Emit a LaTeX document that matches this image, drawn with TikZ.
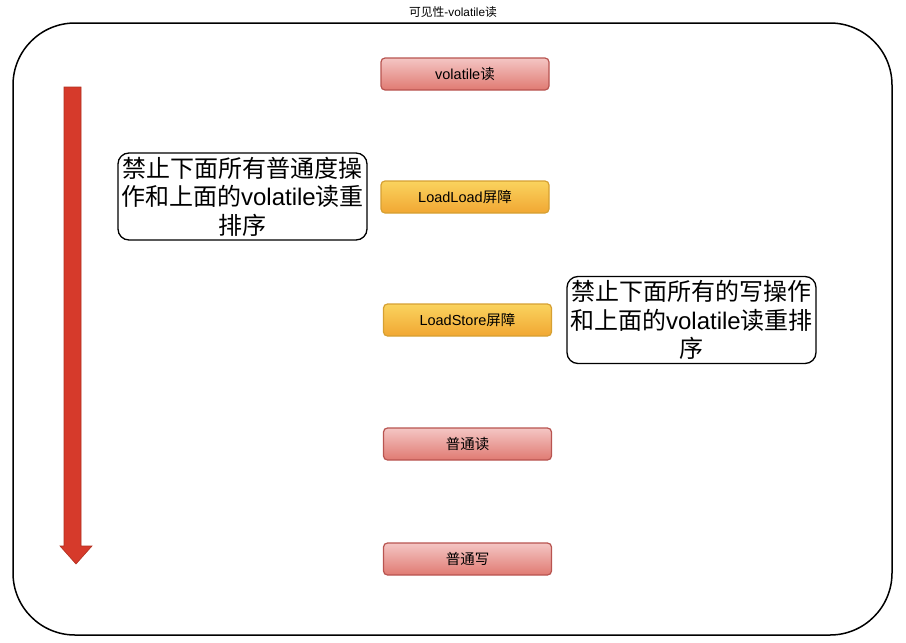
\documentclass[tikz,border=0pt]{standalone}
\usepackage{fontspec}
\setmainfont{Liberation Sans}
\newfontfamily\cjk{Noto Sans CJK SC}
\definecolor{redtop}{HTML}{F4C6C4}
\definecolor{redbot}{HTML}{E07A72}
\definecolor{redline}{HTML}{B85450}
\definecolor{orgtop}{HTML}{FAD35E}
\definecolor{orgbot}{HTML}{F1A733}
\definecolor{orgline}{HTML}{D6A032}
\definecolor{arrowfill}{HTML}{D63A2B}
\definecolor{arrowline}{HTML}{B0301F}
\begin{document}
\begin{tikzpicture}[x=1pt,y=-1pt,
  redbox/.style={draw=redline, line width=1.2pt, rounded corners=4pt, top color=redtop, bottom color=redbot, minimum width=168pt, minimum height=32pt, inner sep=0pt, font=\fontsize{14.5}{16}\selectfont},
  orgbox/.style={draw=orgline, line width=1.2pt, rounded corners=4pt, top color=orgtop, bottom color=orgbot, minimum width=168pt, minimum height=32pt, inner sep=0pt, font=\fontsize{14.5}{16}\selectfont},
  notebox/.style={draw=black, line width=1.3pt, rounded corners=11pt, fill=white, minimum width=249pt, minimum height=87pt, inner sep=0pt, align=center, font=\fontsize{24}{28.5}\selectfont}]
\useasboundingbox (0,0) rectangle (906,643);
\node[font=\fontsize{11.8}{13}\selectfont] (title) at (453,12) {{\cjk 可见性}-volatile{\cjk 读}};
\draw[line width=1.5pt, rounded corners=62pt] (13,23) rectangle (892,635);
\node[redbox] (vr) at (465,74) {volatile{\cjk 读}};
\node[orgbox] (ll) at (465,197) {LoadLoad{\cjk 屏障}};
\node[orgbox] (ls) at (467.5,320) {LoadStore{\cjk 屏障}};
\node[redbox] (nr) at (467.5,444) {{\cjk 普通读}};
\node[redbox] (nw) at (467.5,559) {{\cjk 普通写}};
\node[notebox] (n1) at (242.5,196.5) {{\cjk 禁止下面所有普通度操}\\{\cjk 作和上面的}volatile{\cjk 读重}\\{\cjk 排序}};
\node[notebox] (n2) at (691.5,320) {{\cjk 禁止下面所有的写操作}\\{\cjk 和上面的}volatile{\cjk 读重排}\\{\cjk 序}};
\draw[fill=arrowfill, draw=arrowline, line width=0.6pt] (64,87) -- (81,87) -- (81,546) -- (92,546) -- (76,564) -- (60,546) -- (64,546) -- cycle;
\end{tikzpicture}
\end{document}
